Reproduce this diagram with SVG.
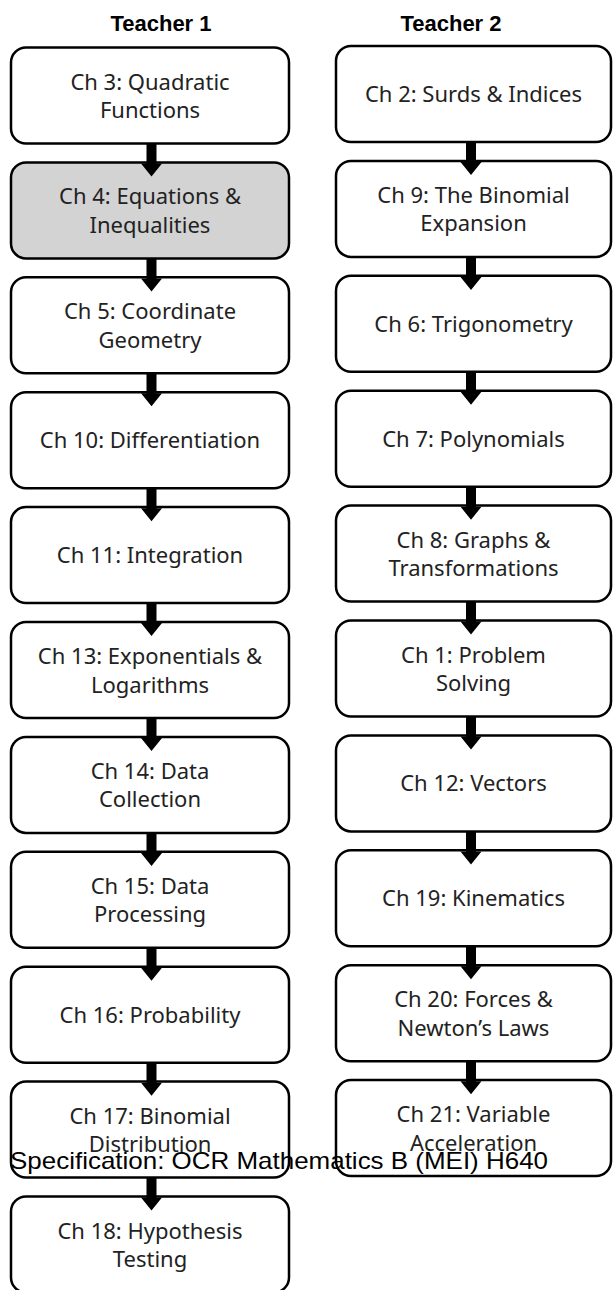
<svg xmlns="http://www.w3.org/2000/svg" xmlns:xlink="http://www.w3.org/1999/xlink" width="613" height="1290" viewBox="0 0 613 1290">
<style>
.box{fill:#ffffff;stroke:#000000;stroke-width:2.5}
.hl{fill:#d3d3d3}
.t{font-family:"Noto Sans","DejaVu Sans",sans-serif;font-size:22px;fill:#222222;text-anchor:middle}
.hdr{font-family:"Liberation Sans",Arial,sans-serif;font-size:22px;font-weight:bold;fill:#000;text-anchor:middle}
.spec{font-family:"Liberation Sans",Arial,sans-serif;font-size:24px;fill:#000}
.arr{fill:#000}
</style>
<defs>
<path id="arr" class="arr" d="M-5,0 H5 V20 H10.5 L0,33 L-10.5,20 H-5 Z"/>
</defs>
<rect width="613" height="1290" fill="#ffffff"/>
<text class="hdr" x="161" y="31">Teacher 1</text>
<text class="hdr" x="451" y="31">Teacher 2</text>

<g id="L0"><rect class="box" x="11" y="47.5" width="278" height="96" rx="15"/><text class="t" x="150" y="89.5">Ch 3: Quadratic</text><text class="t" x="150" y="118">Functions</text></g>
<g id="L1"><rect class="box hl" x="11" y="162.4" width="278" height="96" rx="15"/><text class="t" x="150" y="204.4">Ch 4: Equations &amp;</text><text class="t" x="150" y="232.9">Inequalities</text></g>
<g id="L2"><rect class="box" x="11" y="277.3" width="278" height="96" rx="15"/><text class="t" x="150" y="319.3">Ch 5: Coordinate</text><text class="t" x="150" y="347.8">Geometry</text></g>
<g id="L3"><rect class="box" x="11" y="392.2" width="278" height="96" rx="15"/><text class="t" x="150" y="448.2">Ch 10: Differentiation</text></g>
<g id="L4"><rect class="box" x="11" y="507.1" width="278" height="96" rx="15"/><text class="t" x="150" y="563.1">Ch 11: Integration</text></g>
<g id="L5"><rect class="box" x="11" y="622" width="278" height="96" rx="15"/><text class="t" x="150" y="664">Ch 13: Exponentials &amp;</text><text class="t" x="150" y="692.5">Logarithms</text></g>
<g id="L6"><rect class="box" x="11" y="736.9" width="278" height="96" rx="15"/><text class="t" x="150" y="778.9">Ch 14: Data</text><text class="t" x="150" y="807.4">Collection</text></g>
<g id="L7"><rect class="box" x="11" y="851.8" width="278" height="96" rx="15"/><text class="t" x="150" y="893.8">Ch 15: Data</text><text class="t" x="150" y="922.3">Processing</text></g>
<g id="L8"><rect class="box" x="11" y="966.7" width="278" height="96" rx="15"/><text class="t" x="150" y="1022.7">Ch 16: Probability</text></g>
<g id="L9"><rect class="box" x="11" y="1081.6" width="278" height="96" rx="15"/><text class="t" x="150" y="1123.6">Ch 17: Binomial</text><text class="t" x="150" y="1152.1">Distribution</text></g>
<g id="L10"><rect class="box" x="11" y="1196.5" width="278" height="96" rx="15"/><text class="t" x="150" y="1238.5">Ch 18: Hypothesis</text><text class="t" x="150" y="1267">Testing</text></g>

<g id="R0"><rect class="box" x="336" y="46" width="275" height="96" rx="15"/><text class="t" x="473.5" y="102">Ch 2: Surds &amp; Indices</text></g>
<g id="R1"><rect class="box" x="336" y="160.9" width="275" height="96" rx="15"/><text class="t" x="473.5" y="202.9">Ch 9: The Binomial</text><text class="t" x="473.5" y="231.4">Expansion</text></g>
<g id="R2"><rect class="box" x="336" y="275.8" width="275" height="96" rx="15"/><text class="t" x="473.5" y="331.8">Ch 6: Trigonometry</text></g>
<g id="R3"><rect class="box" x="336" y="390.7" width="275" height="96" rx="15"/><text class="t" x="473.5" y="446.7">Ch 7: Polynomials</text></g>
<g id="R4"><rect class="box" x="336" y="505.6" width="275" height="96" rx="15"/><text class="t" x="473.5" y="547.6">Ch 8: Graphs &amp;</text><text class="t" x="473.5" y="576.1">Transformations</text></g>
<g id="R5"><rect class="box" x="336" y="620.5" width="275" height="96" rx="15"/><text class="t" x="473.5" y="662.5">Ch 1: Problem</text><text class="t" x="473.5" y="691">Solving</text></g>
<g id="R6"><rect class="box" x="336" y="735.4" width="275" height="96" rx="15"/><text class="t" x="473.5" y="791.4">Ch 12: Vectors</text></g>
<g id="R7"><rect class="box" x="336" y="850.3" width="275" height="96" rx="15"/><text class="t" x="473.5" y="906.3">Ch 19: Kinematics</text></g>
<g id="R8"><rect class="box" x="336" y="965.2" width="275" height="96" rx="15"/><text class="t" x="473.5" y="1007.2">Ch 20: Forces &amp;</text><text class="t" x="473.5" y="1035.7">Newton’s Laws</text></g>
<g id="R9"><rect class="box" x="336" y="1080.1" width="275" height="96" rx="15"/><text class="t" x="473.5" y="1122.1">Ch 21: Variable</text><text class="t" x="473.5" y="1150.6">Acceleration</text></g>

<g id="connectors">
<use xlink:href="#arr" href="#arr" x="151.5" y="143.5"/>
<use xlink:href="#arr" href="#arr" x="151.5" y="258.4"/>
<use xlink:href="#arr" href="#arr" x="151.5" y="373.3"/>
<use xlink:href="#arr" href="#arr" x="151.5" y="488.2"/>
<use xlink:href="#arr" href="#arr" x="151.5" y="603.1"/>
<use xlink:href="#arr" href="#arr" x="151.5" y="718"/>
<use xlink:href="#arr" href="#arr" x="151.5" y="832.9"/>
<use xlink:href="#arr" href="#arr" x="151.5" y="947.8"/>
<use xlink:href="#arr" href="#arr" x="151.5" y="1062.7"/>
<use xlink:href="#arr" href="#arr" x="151.5" y="1177.6"/>
<use xlink:href="#arr" href="#arr" x="471" y="142"/>
<use xlink:href="#arr" href="#arr" x="471" y="256.9"/>
<use xlink:href="#arr" href="#arr" x="471" y="371.8"/>
<use xlink:href="#arr" href="#arr" x="471" y="486.7"/>
<use xlink:href="#arr" href="#arr" x="471" y="601.6"/>
<use xlink:href="#arr" href="#arr" x="471" y="716.5"/>
<use xlink:href="#arr" href="#arr" x="471" y="831.4"/>
<use xlink:href="#arr" href="#arr" x="471" y="946.3"/>
<use xlink:href="#arr" href="#arr" x="471" y="1061.2"/>
</g>

<text class="spec" x="10" y="1169" textLength="538" lengthAdjust="spacingAndGlyphs">Specification: OCR Mathematics B (MEI) H640</text>
</svg>
